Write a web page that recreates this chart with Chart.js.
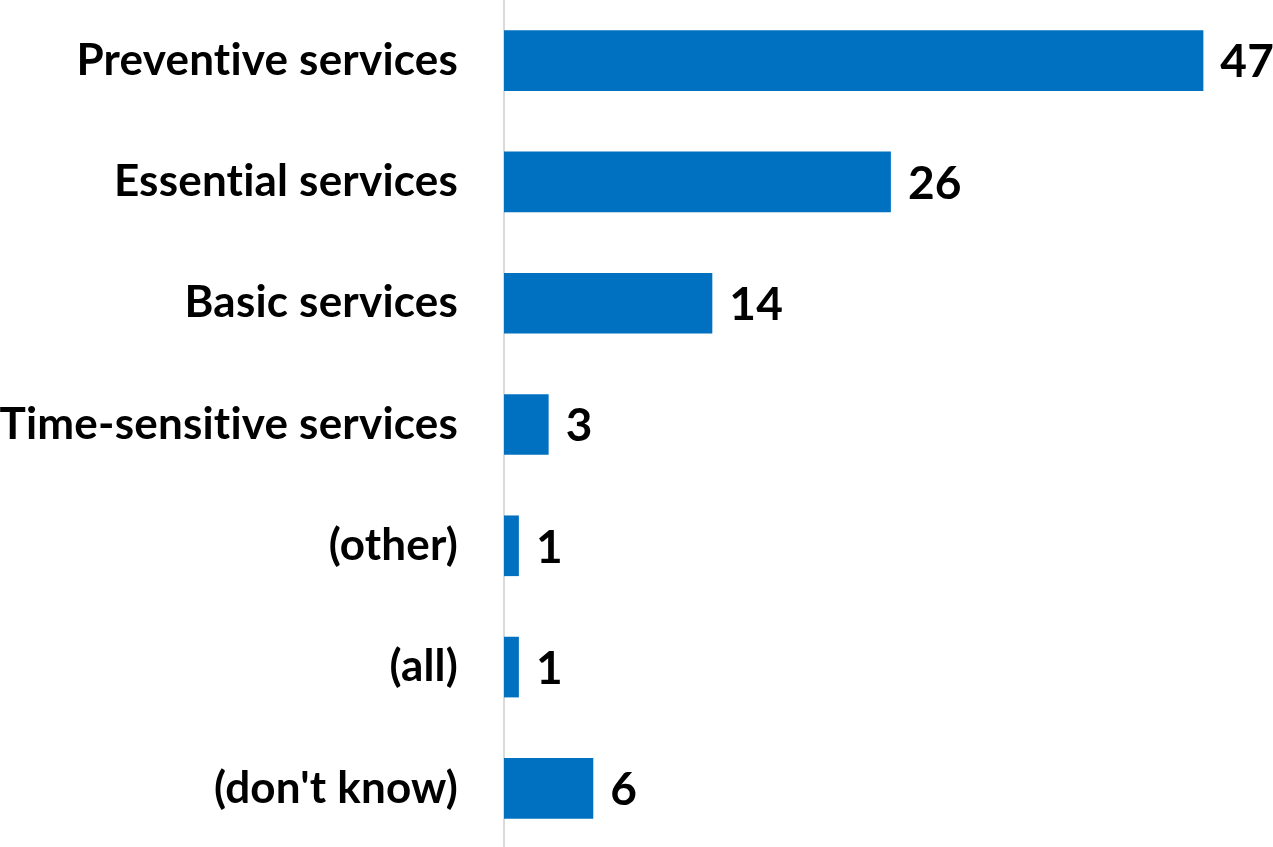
<!DOCTYPE html>
<html>
<head>
<meta charset="utf-8">
<script src="https://cdn.jsdelivr.net/npm/chart.js@4/dist/chart.umd.min.js"></script>
<style>
html,body{margin:0;padding:0;background:#fff;overflow:hidden;}
#wrap{position:relative;width:1273px;height:849px;}
</style>
</head>
<body>
<div id="wrap"><canvas id="c"></canvas></div>
<script>
const categories = ["Preventive services","Essential services","Basic services","Time-sensitive services","(other)","(all)","(don't know)"];
const values = [47, 26, 14, 3, 1, 1, 6];
const xMax = 50;

const FONT = "Lato, 'Open Sans', sans-serif";

const noLigatures = {
  id: 'noLigatures',
  beforeDraw(chart) {
    if ('letterSpacing' in chart.ctx) chart.ctx.letterSpacing = '0.2px';
  }
};

const valueLabels = {
  id: 'valueLabels',
  afterDatasetsDraw(chart) {
    const ctx = chart.ctx;
    const meta = chart.getDatasetMeta(0);
    ctx.save();
    ctx.font = "bold 46px " + FONT;
    ctx.fillStyle = '#000';
    ctx.textAlign = 'left';
    ctx.textBaseline = 'middle';
    meta.data.forEach((bar, i) => {
      ctx.fillText(String(values[i]), bar.x + 17, bar.y + 2);
    });
    ctx.restore();
  }
};

new Chart(document.getElementById('c'), {
  type: 'bar',
  data: {
    labels: categories,
    datasets: [{
      data: values,
      backgroundColor: '#0070C0',
      borderWidth: 0,
      categoryPercentage: 1,
      barPercentage: 0.5
    }]
  },
  options: {
    indexAxis: 'y',
    responsive: true,
    maintainAspectRatio: false,
    animation: false,
    layout: { padding: { left: 0, right: 25, top: 0, bottom: 0 } },
    plugins: { legend: { display: false }, tooltip: { enabled: false } },
    scales: {
      x: { display: false, min: 0, max: xMax },
      y: {
        grid: { display: false, drawTicks: false },
        border: { display: true, color: '#d9d9d9', width: 2 },
        ticks: {
          color: '#000',
          padding: 46,
          font: { family: FONT, size: 44, weight: 'bold' }
        },
        afterFit(scale) {
          scale.width = 504;
          scale.paddingTop = 0;
          scale.paddingBottom = 0;
        }
      }
    }
  },
  plugins: [noLigatures, valueLabels]
});
</script>
</body>
</html>
